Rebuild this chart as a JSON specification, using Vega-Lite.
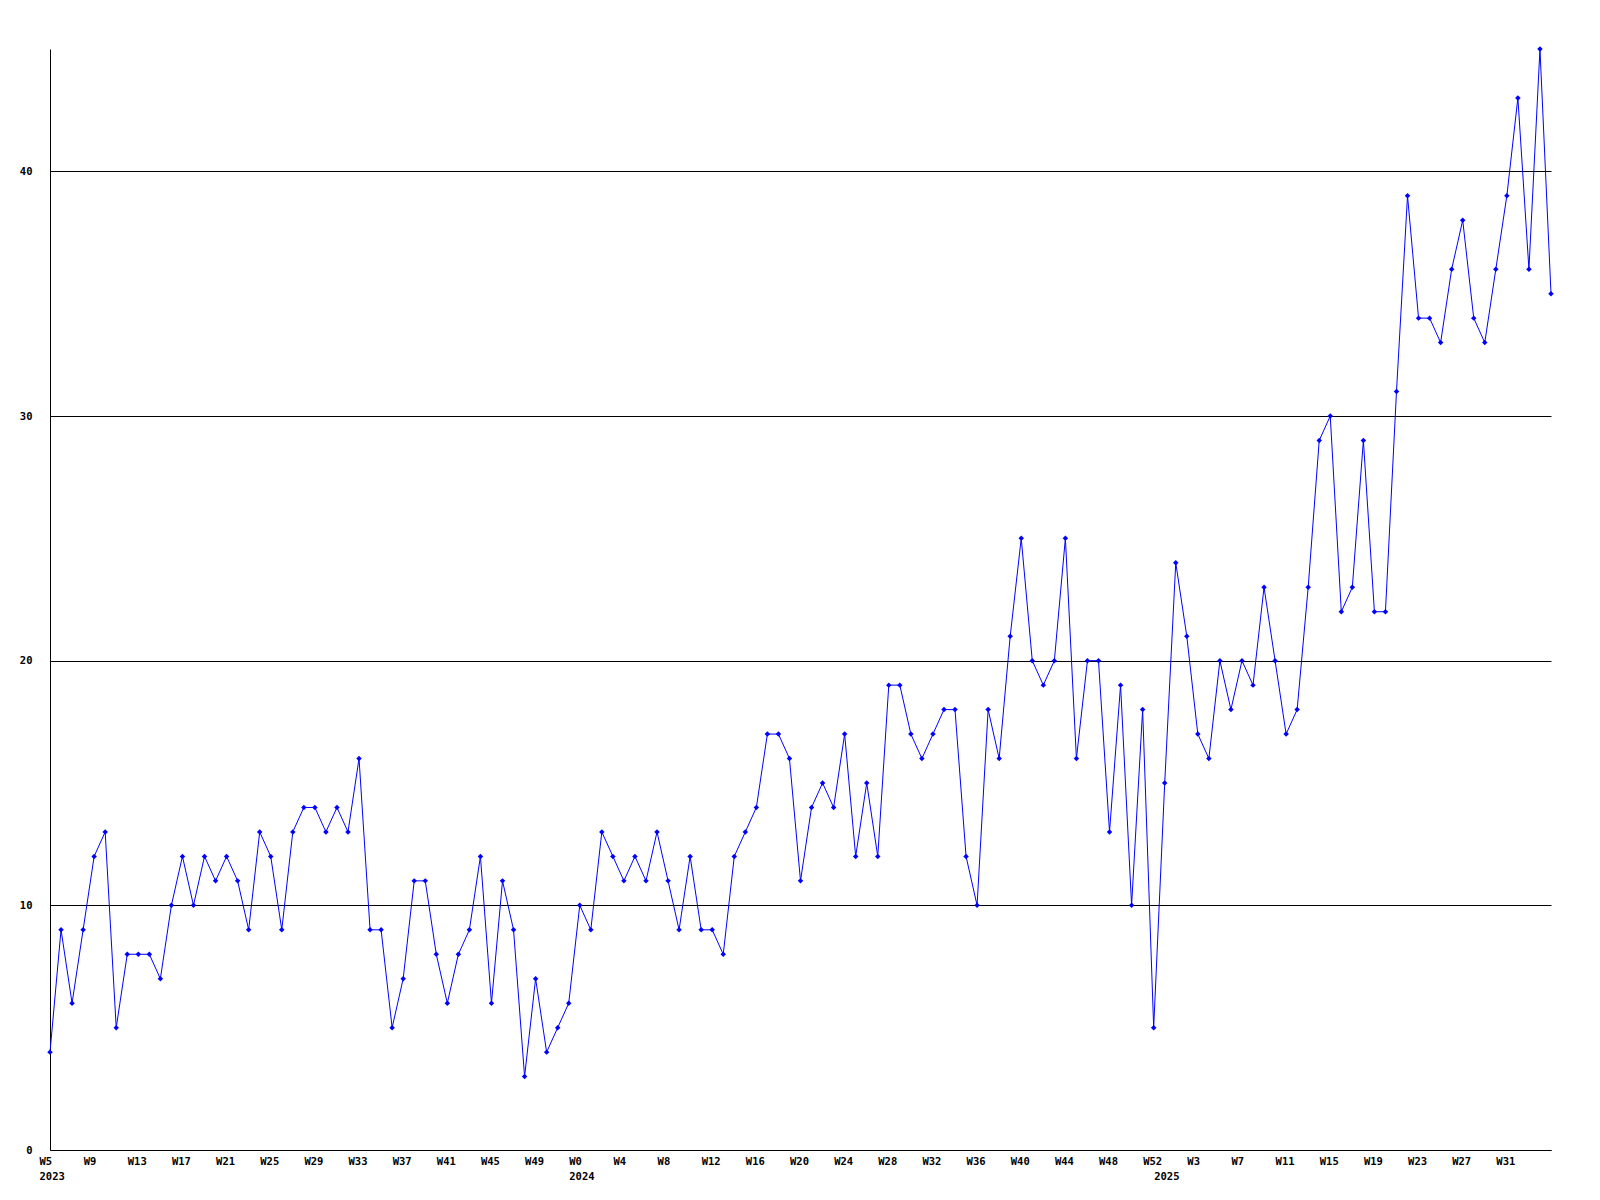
{
  "$schema": "https://vega.github.io/schema/vega-lite/v6.json",
  "autosize": {"type": "none"},
  "width": 1501,
  "height": 1101,
  "padding": {"left": 50, "top": 49, "right": 49, "bottom": 50},
  "background": "white",
  "config": {"view": {"stroke": null}},
  "data": {"values": [
    {"wk":"2023 W5","n":4},{"wk":"2023 W6","n":9},{"wk":"2023 W7","n":6},{"wk":"2023 W8","n":9},{"wk":"2023 W9","n":12},
    {"wk":"2023 W10","n":13},{"wk":"2023 W11","n":5},{"wk":"2023 W12","n":8},{"wk":"2023 W13","n":8},{"wk":"2023 W14","n":8},
    {"wk":"2023 W15","n":7},{"wk":"2023 W16","n":10},{"wk":"2023 W17","n":12},{"wk":"2023 W18","n":10},{"wk":"2023 W19","n":12},
    {"wk":"2023 W20","n":11},{"wk":"2023 W21","n":12},{"wk":"2023 W22","n":11},{"wk":"2023 W23","n":9},{"wk":"2023 W24","n":13},
    {"wk":"2023 W25","n":12},{"wk":"2023 W26","n":9},{"wk":"2023 W27","n":13},{"wk":"2023 W28","n":14},{"wk":"2023 W29","n":14},
    {"wk":"2023 W30","n":13},{"wk":"2023 W31","n":14},{"wk":"2023 W32","n":13},{"wk":"2023 W33","n":16},{"wk":"2023 W34","n":9},
    {"wk":"2023 W35","n":9},{"wk":"2023 W36","n":5},{"wk":"2023 W37","n":7},{"wk":"2023 W38","n":11},{"wk":"2023 W39","n":11},
    {"wk":"2023 W40","n":8},{"wk":"2023 W41","n":6},{"wk":"2023 W42","n":8},{"wk":"2023 W43","n":9},{"wk":"2023 W44","n":12},
    {"wk":"2023 W45","n":6},{"wk":"2023 W46","n":11},{"wk":"2023 W47","n":9},{"wk":"2023 W48","n":3},{"wk":"2023 W49","n":7},
    {"wk":"2023 W50","n":4},{"wk":"2023 W51","n":5},{"wk":"2023 W52","n":6},
    {"wk":"2024 W0","n":10},{"wk":"2024 W1","n":9},{"wk":"2024 W2","n":13},{"wk":"2024 W3","n":12},{"wk":"2024 W4","n":11},
    {"wk":"2024 W5","n":12},{"wk":"2024 W6","n":11},{"wk":"2024 W7","n":13},{"wk":"2024 W8","n":11},{"wk":"2024 W9","n":9},
    {"wk":"2024 W10","n":12},{"wk":"2024 W11","n":9},{"wk":"2024 W12","n":9},{"wk":"2024 W13","n":8},{"wk":"2024 W14","n":12},
    {"wk":"2024 W15","n":13},{"wk":"2024 W16","n":14},{"wk":"2024 W17","n":17},{"wk":"2024 W18","n":17},{"wk":"2024 W19","n":16},
    {"wk":"2024 W20","n":11},{"wk":"2024 W21","n":14},{"wk":"2024 W22","n":15},{"wk":"2024 W23","n":14},{"wk":"2024 W24","n":17},
    {"wk":"2024 W25","n":12},{"wk":"2024 W26","n":15},{"wk":"2024 W27","n":12},{"wk":"2024 W28","n":19},{"wk":"2024 W29","n":19},
    {"wk":"2024 W30","n":17},{"wk":"2024 W31","n":16},{"wk":"2024 W32","n":17},{"wk":"2024 W33","n":18},{"wk":"2024 W34","n":18},
    {"wk":"2024 W35","n":12},{"wk":"2024 W36","n":10},{"wk":"2024 W37","n":18},{"wk":"2024 W38","n":16},{"wk":"2024 W39","n":21},
    {"wk":"2024 W40","n":25},{"wk":"2024 W41","n":20},{"wk":"2024 W42","n":19},{"wk":"2024 W43","n":20},{"wk":"2024 W44","n":25},
    {"wk":"2024 W45","n":16},{"wk":"2024 W46","n":20},{"wk":"2024 W47","n":20},{"wk":"2024 W48","n":13},{"wk":"2024 W49","n":19},
    {"wk":"2024 W50","n":10},{"wk":"2024 W51","n":18},{"wk":"2024 W52","n":5},
    {"wk":"2025 W0","n":15},{"wk":"2025 W1","n":24},{"wk":"2025 W2","n":21},{"wk":"2025 W3","n":17},{"wk":"2025 W4","n":16},
    {"wk":"2025 W5","n":20},{"wk":"2025 W6","n":18},{"wk":"2025 W7","n":20},{"wk":"2025 W8","n":19},{"wk":"2025 W9","n":23},
    {"wk":"2025 W10","n":20},{"wk":"2025 W11","n":17},{"wk":"2025 W12","n":18},{"wk":"2025 W13","n":23},{"wk":"2025 W14","n":29},
    {"wk":"2025 W15","n":30},{"wk":"2025 W16","n":22},{"wk":"2025 W17","n":23},{"wk":"2025 W18","n":29},{"wk":"2025 W19","n":22},
    {"wk":"2025 W20","n":22},{"wk":"2025 W21","n":31},{"wk":"2025 W22","n":39},{"wk":"2025 W23","n":34},{"wk":"2025 W24","n":34},
    {"wk":"2025 W25","n":33},{"wk":"2025 W26","n":36},{"wk":"2025 W27","n":38},{"wk":"2025 W28","n":34},{"wk":"2025 W29","n":33},
    {"wk":"2025 W30","n":36},{"wk":"2025 W31","n":39},{"wk":"2025 W32","n":43},{"wk":"2025 W33","n":36},{"wk":"2025 W34","n":45},
    {"wk":"2025 W35","n":35}
  ]},
  "mark": {
    "type": "line",
    "color": "#0000ff",
    "strokeWidth": 1,
    "point": {"shape": "diamond", "size": 30, "filled": true, "color": "#0000ff"}
  },
  "encoding": {
    "x": {
      "field": "wk",
      "type": "ordinal",
      "sort": null,
      "scale": {"type": "point", "padding": 0},
      "axis": {
        "title": null,
        "values": ["2023 W5","2023 W9","2023 W13","2023 W17","2023 W21","2023 W25","2023 W29","2023 W33","2023 W37","2023 W41","2023 W45","2023 W49",
                   "2024 W0","2024 W4","2024 W8","2024 W12","2024 W16","2024 W20","2024 W24","2024 W28","2024 W32","2024 W36","2024 W40","2024 W44","2024 W48","2024 W52",
                   "2025 W0","2025 W3","2025 W7","2025 W11","2025 W15","2025 W19","2025 W23","2025 W27","2025 W31"],
        "labelExpr": "datum.value == '2023 W5' ? ['W5','2023'] : datum.value == '2024 W0' ? ['W0','2024'] : datum.value == '2025 W0' ? ['','2025'] : split(datum.value, ' ')[1]",
        "labelAngle": 0,
        "labelAlign": "left",
        "labelOffset": -11,
        "labelBaseline": "top",
        "labelOverlap": false,
        "labelFlush": false,
        "labelBound": false,
        "labelPadding": 6,
        "labelLineHeight": 15,
        "labelFont": "DejaVu Sans Mono",
        "labelFontWeight": "bold",
        "labelFontSize": 10.5,
        "labelColor": "black",
        "ticks": false,
        "grid": false,
        "domainColor": "black",
        "domainWidth": 1
      }
    },
    "y": {
      "field": "n",
      "type": "quantitative",
      "scale": {"domain": [0, 45], "nice": false, "zero": true},
      "axis": {
        "title": null,
        "values": [0, 10, 20, 30, 40],
        "grid": true,
        "gridColor": "black",
        "gridOpacity": 1,
        "gridWidth": 1,
        "ticks": false,
        "labelPadding": 18,
        "labelFont": "DejaVu Sans Mono",
        "labelFontWeight": "bold",
        "labelFontSize": 10.5,
        "labelColor": "black",
        "domainColor": "black",
        "domainWidth": 1
      }
    }
  }
}
